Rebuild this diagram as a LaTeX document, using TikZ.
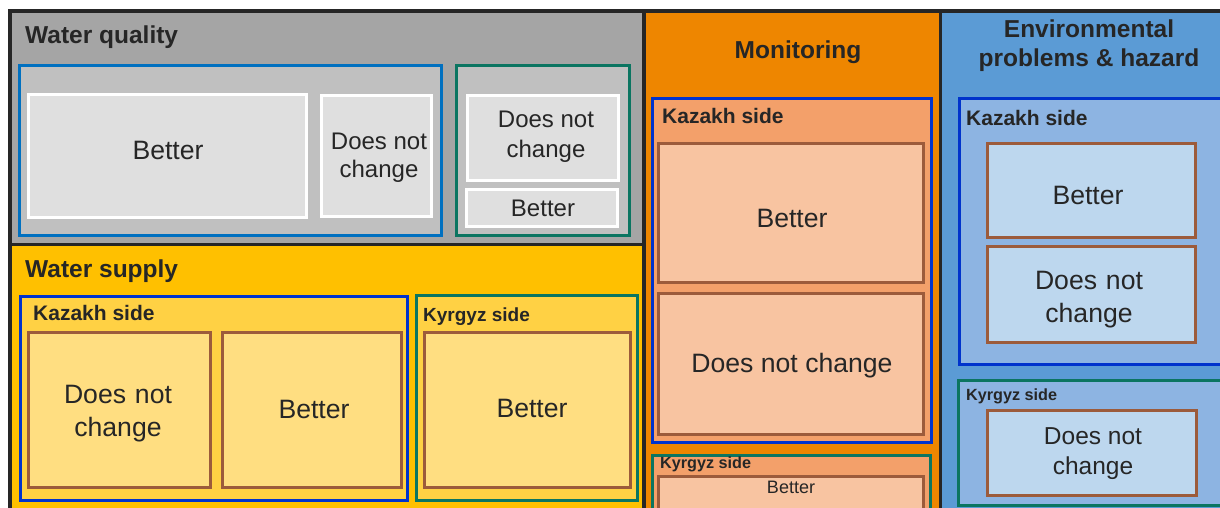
\documentclass[tikz,border=0pt]{standalone}
\usepackage{fontspec}
\setmainfont{Liberation Sans}
\definecolor{framedark}{HTML}{262626}
\definecolor{wqgray}{HTML}{A5A5A5}
\definecolor{wqmid}{HTML}{C0C0C0}
\definecolor{wqlight}{HTML}{DFDFDF}
\definecolor{wsyellow}{HTML}{FFC000}
\definecolor{wsmid}{HTML}{FFD144}
\definecolor{wslight}{HTML}{FFDE81}
\definecolor{moorange}{HTML}{EE8600}
\definecolor{momid}{HTML}{F3A06A}
\definecolor{molight}{HTML}{F8C4A1}
\definecolor{enblue}{HTML}{5B9BD5}
\definecolor{enmid}{HTML}{8DB4E2}
\definecolor{enlight}{HTML}{BDD7EE}
\definecolor{kzblue}{HTML}{0033CC}
\definecolor{wqblue}{HTML}{0070C0}
\definecolor{kgteal}{HTML}{0B7561}
\definecolor{leafbrown}{HTML}{9C5B3B}

\begin{document}
\begin{tikzpicture}[
    x=1pt, y=-1pt,
    frame/.style={draw=framedark, line width=3.5pt},
    group/.style={line width=3pt},
    leaf/.style={line width=3pt},
    title/.style={font=\fontsize{24.5}{29}\selectfont\bfseries, text=framedark, inner sep=0pt, align=center},
    side/.style={font=\fontsize{21}{25}\selectfont\bfseries, text=framedark, inner sep=0pt, anchor=base west},
    smallside/.style={side, font=\fontsize{16.2}{19}\selectfont\bfseries},
    big/.style={font=\fontsize{26.6}{33}\selectfont, text=framedark, inner sep=0pt, align=center},
    mid/.style={font=\fontsize{24}{28}\selectfont, text=framedark, inner sep=0pt, align=center}
]
    \useasboundingbox (0,0) rectangle (1220,508);
    \clip (0,0) rectangle (1220,508);

    % Tiles
    \fill[wqgray] (10,11) rectangle (644,244.5);
    \fill[wsyellow] (10,244.5) rectangle (644,520);
    \fill[moorange] (644,11) rectangle (940.5,520);
    \fill[enblue] (940.5,11) rectangle (1240,520);

    % Water quality
    \draw[group, draw=wqblue, fill=wqmid] (19.5,65.5) rectangle (441.5,235.5);
    \draw[leaf, draw=white, fill=wqlight] (28.5,94.5) rectangle (306.5,217.5);
    \draw[leaf, draw=white, fill=wqlight] (321.5,95.5) rectangle (431.5,216.5);
    \draw[group, draw=kgteal, fill=wqmid] (456.5,65.5) rectangle (629.5,235.5);
    \draw[leaf, draw=white, fill=wqlight] (467.5,95.5) rectangle (618.5,180.5);
    \draw[leaf, draw=white, fill=wqlight] (466.5,189.5) rectangle (617.5,226.5);

    \node[title, anchor=base west] (wqtitle) at (25,44) {Water quality};
    \node[big, anchor=base] (wqbetter) at (168,159) {Better};
    \node[mid] (wqsame) at (379,157.4) {Does not\\change};
    \node[mid] (wqsametwo) at (546,136.4) {Does not\\[2pt]change};
    \node[mid, anchor=base] (wqbettertwo) at (543,216) {Better};

    % Water supply
    \draw[group, draw=kzblue, fill=wsmid] (20.5,296.5) rectangle (407.5,500.5);
    \draw[leaf, draw=leafbrown, fill=wslight] (28.5,332.5) rectangle (210.5,487.5);
    \draw[leaf, draw=leafbrown, fill=wslight] (222.5,332.5) rectangle (401.5,487.5);
    \draw[group, draw=kgteal, fill=wsmid] (416.5,295.5) rectangle (637.5,500.5);
    \draw[leaf, draw=leafbrown, fill=wslight] (424.5,332.5) rectangle (630.5,487.5);

    \node[title, anchor=base west] (wstitle) at (25,277) {Water supply};
    \node[side] (wskz) at (33,320) {Kazakh side};
    \node[side, font=\fontsize{19}{23}\selectfont\bfseries] (wskg) at (423,321) {Kyrgyz side};
    \node[big] (wssame) at (118,413.7) {Does\,\,not\\change};
    \node[big, anchor=base] (wsbetter) at (314,418) {Better};
    \node[big, anchor=base] (wskgbetter) at (532,417) {Better};

    % Monitoring
    \draw[group, draw=kzblue, fill=momid] (652.5,98.5) rectangle (931.5,442.5);
    \draw[leaf, draw=leafbrown, fill=molight] (658.5,143.5) rectangle (923.5,282.5);
    \draw[leaf, draw=leafbrown, fill=molight] (658.5,293.5) rectangle (923.5,434.5);
    \draw[group, draw=kgteal, fill=momid] (652.5,455.5) rectangle (930.5,530);
    \draw[leaf, draw=leafbrown, fill=molight] (658.5,476.5) rectangle (923.5,530);

    \node[title, anchor=base] (motitle) at (798,59) {Monitoring};
    \node[side] (mokz) at (662,124) {Kazakh side};
    \node[smallside] (mokg) at (660,468) {Kyrgyz side};
    \node[big, anchor=base] (mobetter) at (792,227) {Better};
    \node[big, anchor=base] (mosame) at (792,372) {Does not change};
    \node[big, anchor=base, font=\fontsize{18}{21}\selectfont] (mokgbetter) at (791,493) {Better};

    % Environmental problems & hazard
    \draw[group, draw=kzblue, fill=enmid] (959.5,98.5) rectangle (1240,364.5);
    \draw[leaf, draw=leafbrown, fill=enlight] (987.5,143.5) rectangle (1195.5,237.5);
    \draw[leaf, draw=leafbrown, fill=enlight] (987.5,246.5) rectangle (1195.5,342.5);
    \draw[group, draw=kgteal, fill=enmid] (958.5,380.5) rectangle (1240,505.5);
    \draw[leaf, draw=leafbrown, fill=enlight] (987.5,410.5) rectangle (1196.5,495.5);

    \node[title] (entitle) at (1089,46.1) {Environmental\\problems \& hazard};
    \node[side] (enkz) at (966,126) {Kazakh side};
    \node[smallside] (enkg) at (966,400) {Kyrgyz side};
    \node[big, anchor=base] (enbetter) at (1088,204) {Better};
    \node[big] (ensame) at (1089,299.7) {Does\,\,not\\change};
    \node[mid, font=\fontsize{24.5}{30}\selectfont] (enkgsame) at (1093,453.8) {Does not\\change};

    % Frame lines
    \draw[frame] (10,520) -- (10,11) -- (1240,11);
    \draw[frame] (644,11) -- (644,520);
    \draw[frame] (940.5,11) -- (940.5,520);
    \draw[frame] (10,244.5) -- (644,244.5);
\end{tikzpicture}
\end{document}
